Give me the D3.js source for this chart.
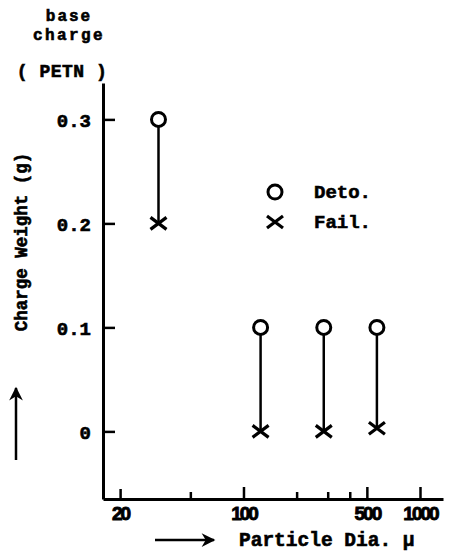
<!DOCTYPE html>
<html>
<head>
<meta charset="utf-8">
<script src="https://cdn.jsdelivr.net/npm/d3@7"></script>
<style>
  body { margin: 0; background: #fff; }
  svg { display: block; }
  .mono { font-family: "Liberation Mono", "DejaVu Sans Mono", monospace; font-weight: bold; fill: #000; stroke: #000; stroke-width: 0.6; }
</style>
</head>
<body>
<div id="chart"></div>
<script>
// particle diameter (micron) of each test
const particleDia = [33, 125, 285, 570];
// lowest base charge that detonated
const detoCharge = [0.3, 0.1, 0.1, 0.1];
// highest base charge that failed
const failCharge = [0.2, 0, 0, 0.003];

const xMajorTicks = [20, 100, 500, 1000];
const xMajorLabels = ['20', '100', '500', '1000'];
const xMinorTicks = [50, 200, 300, 400];
const yTicks = [0, 0.1, 0.2, 0.3];
const yTickLabels = ['0', '0.1', '0.2', '0.3'];

const width = 454;
const height = 551;

const x = d3.scaleLog()
    .domain([16, 1350])
    .range([103, 443]);

const y = d3.scaleLinear()
    .domain([-0.065, 0.335])
    .range([499, 83]);

const svg = d3.select('#chart')
    .append('svg')
    .attr('width', width)
    .attr('height', height);

// y axis, ticks pointing inward
const yAxis = svg.append('g')
    .attr('transform', `translate(${x.range()[0]},0)`)
    .call(d3.axisLeft(y)
        .tickValues(yTicks)
        .tickFormat((d, i) => yTickLabels[i])
        .tickSizeInner(-12)
        .tickSizeOuter(0)
        .tickPadding(12));
yAxis.select('.domain').attr('stroke-width', 3);
yAxis.selectAll('.tick line').attr('stroke-width', 2.5);
yAxis.selectAll('.tick text')
    .attr('class', 'mono')
    .style('font-size', '19px')
    .attr('dy', '0.36em');

// x axis (log), major ticks with labels
const xAxis = svg.append('g')
    .attr('transform', `translate(0,${y.range()[0]})`)
    .call(d3.axisBottom(x)
        .tickValues(xMajorTicks)
        .tickFormat((d, i) => xMajorLabels[i])
        .tickSizeInner(-12)
        .tickSizeOuter(0)
        .tickPadding(8));
xAxis.select('.domain').attr('stroke-width', 3);
xAxis.selectAll('.tick line')
    .attr('stroke-width', 2.5)
    .attr('y2', d => d == 20 ? -10 : -12);
xAxis.selectAll('.tick text')
    .attr('font-family', '"Liberation Sans", Arial, sans-serif')
    .attr('font-weight', 'bold')
    .attr('font-size', 19)
    .attr('letter-spacing', -2)
    .attr('stroke', '#000')
    .attr('stroke-width', 0.9)
    .attr('fill', '#000');

// minor ticks
svg.append('g')
    .attr('transform', `translate(0,${y.range()[0]})`)
    .call(d3.axisBottom(x)
        .tickValues(xMinorTicks)
        .tickFormat('')
        .tickSizeInner(-7)
        .tickSizeOuter(0))
    .call(g => g.select('.domain').remove())
    .selectAll('.tick line').attr('stroke-width', 2.5);

// data: stems, circles (deto), crosses (fail)
const pts = particleDia.map((d, i) => ({dia: d, deto: detoCharge[i], fail: failCharge[i]}));
const r = 7;

svg.selectAll('line.stem')
    .data(pts)
    .enter()
    .append('line')
    .attr('class', 'stem')
    .attr('x1', d => x(d.dia))
    .attr('x2', d => x(d.dia))
    .attr('y1', d => y(d.deto) + r)
    .attr('y2', d => y(d.fail))
    .attr('stroke', '#000')
    .attr('stroke-width', 2.5);

svg.selectAll('circle.deto')
    .data(pts)
    .enter()
    .append('circle')
    .attr('class', 'deto')
    .attr('cx', d => x(d.dia))
    .attr('cy', d => y(d.deto))
    .attr('r', r)
    .attr('fill', '#fff')
    .attr('stroke', '#000')
    .attr('stroke-width', 3);

const cross = (cx, cy) => `M${cx - 8},${cy - 6}L${cx + 8},${cy + 6}M${cx - 8},${cy + 6}L${cx + 8},${cy - 6}`;

svg.selectAll('path.fail')
    .data(pts)
    .enter()
    .append('path')
    .attr('class', 'fail')
    .attr('d', d => cross(x(d.dia), y(d.fail)))
    .attr('fill', 'none')
    .attr('stroke', '#000')
    .attr('stroke-width', 3.2);

// legend
const legend = svg.append('g');
legend.append('circle')
    .attr('cx', 275).attr('cy', 192).attr('r', r)
    .attr('fill', '#fff').attr('stroke', '#000').attr('stroke-width', 3);
legend.append('path')
    .attr('d', cross(275, 222))
    .attr('fill', 'none').attr('stroke', '#000').attr('stroke-width', 3.2);
legend.append('text').attr('class', 'mono').attr('x', 314).attr('y', 198)
    .style('font-size', '19px').text('Deto.');
legend.append('text').attr('class', 'mono').attr('x', 314).attr('y', 228)
    .style('font-size', '19px').text('Fail.');

// top-left title
const title = svg.append('g').attr('text-anchor', 'middle');
title.append('text').attr('class', 'mono').attr('x', 69).attr('y', 21)
    .style('font-size', '16px').style('letter-spacing', '2px').text('base');
title.append('text').attr('class', 'mono').attr('x', 69).attr('y', 40)
    .style('font-size', '16px').style('letter-spacing', '2.4px').text('charge');
title.append('text').attr('class', 'mono').attr('x', 62).attr('y', 77)
    .style('font-size', '18px').style('letter-spacing', '0.5px').text('( PETN )');

// y axis title + arrow
svg.append('text')
    .attr('class', 'mono')
    .attr('transform', 'translate(27,242) rotate(-90)')
    .attr('text-anchor', 'middle')
    .style('font-size', '17.5px')
    .text('Charge Weight (g)');

svg.append('defs').append('marker')
    .attr('id', 'head')
    .attr('viewBox', '0 0 10 10')
    .attr('refX', 9).attr('refY', 5)
    .attr('markerWidth', 6).attr('markerHeight', 5.5)
    .attr('markerUnits', 'strokeWidth')
    .attr('orient', 'auto')
    .append('path')
    .attr('d', 'M0,0L10,5L0,10L3,5Z')
    .attr('fill', '#000');

svg.append('line')
    .attr('x1', 16).attr('y1', 460)
    .attr('x2', 16).attr('y2', 388)
    .attr('stroke', '#000').attr('stroke-width', 2.5)
    .attr('marker-end', 'url(#head)');

// x axis title + arrow
svg.append('line')
    .attr('x1', 155).attr('y1', 540)
    .attr('x2', 214).attr('y2', 540)
    .attr('stroke', '#000').attr('stroke-width', 2.5)
    .attr('marker-end', 'url(#head)');

svg.append('text')
    .attr('class', 'mono')
    .attr('x', 239).attr('y', 546)
    .style('font-size', '19.5px')
    .text('Particle Dia. μ');
</script>
</body>
</html>
